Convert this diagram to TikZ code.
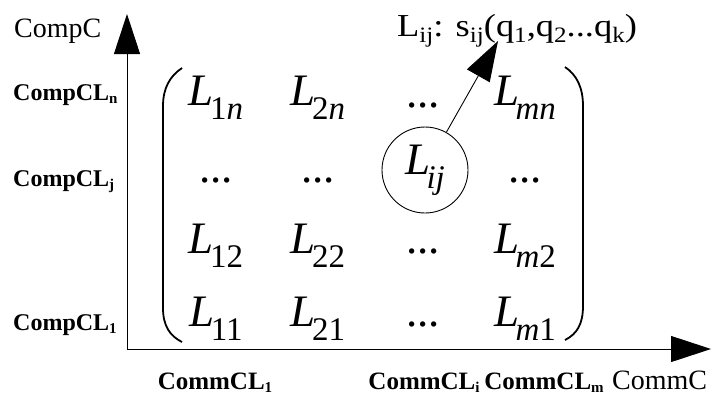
\documentclass[tikz,border=0pt]{standalone}
\usepackage{fontspec}
\setmainfont{Liberation Serif}
\usetikzlibrary{arrows.meta}
\newcommand\Lent[1]{\fontsize{45}{45}\selectfont\textit{L}\kern-0.08em\raisebox{-14pt}{\fontsize{33}{33}\selectfont #1}}
\newcommand\ddd{\fontsize{45}{45}\selectfont ...}
\newcommand\tsub[1]{\raisebox{-6pt}{\fontsize{22}{22}\selectfont #1}}
\newcommand\bsub[1]{\raisebox{-3pt}{\fontsize{15}{15}\selectfont\bfseries #1}}
\tikzset{
  axis/.style={line width=1pt,-{Triangle[length=40pt,width=26pt]}},
  callout/.style={line width=0.9pt,-{Triangle[length=40pt,width=26pt]}},
  paren/.style={line width=1.8pt},
  ent/.style={anchor=base,inner sep=0pt},
  blab/.style={anchor=base west,inner sep=0pt,font=\fontsize{24}{24}\selectfont\bfseries},
  bblab/.style={anchor=base,inner sep=0pt,font=\fontsize{25}{25}\selectfont\bfseries},
  nlab/.style={anchor=base west,inner sep=0pt,font=\fontsize{28}{28}\selectfont},
}
\begin{document}
\begin{tikzpicture}[x=1pt,y=-1pt]
\useasboundingbox (0,0) rectangle (712,394);
% axes
\coordinate (O) at (127,349);
\coordinate (ytip) at (127,14);
\coordinate (xtip) at (711,349);
\draw[axis] (O) -- (ytip);
\draw[axis] (O) -- (xtip);
% axis labels
\node[nlab] (compc) at (14,37) {CompC};
\node[nlab] (commc) at (612,389) {CommC};
\node[blab] (cln) at (13,100) {CompCL\bsub{n}};
\node[blab] (clj) at (13,186) {CompCL\bsub{j}};
\node[blab] (cl1) at (13,330) {CompCL\bsub{1}};
\node[bblab] (ml1) at (215,389) {CommCL\bsub{1}};
\node[bblab] (mli) at (424,389) {CommCL\bsub{i}};
\node[bblab] (mlm) at (544,389) {CommCL\bsub{m}};
% parentheses
\draw[paren] (182,68) .. controls (170,76) and (163,88) .. (163,106) -- (163,308) .. controls (163,326) and (170,336) .. (182,342);
\draw[paren] (565,67) .. controls (577,75) and (583,88) .. (583,106) -- (583,306) .. controls (583,324) and (577,334) .. (565,340);
% entries
\node[ent] (l1n) at (216,105) {\Lent{1\textit{n}}};
\node[ent] (l2n) at (318,105) {\Lent{2\textit{n}}};
\node[ent] (d3n) at (423,107) {\ddd};
\node[ent] (lmn) at (525,105) {\Lent{\textit{mn}}};
\node[ent] (d1j) at (216,182) {\ddd};
\node[ent] (d2j) at (318,182) {\ddd};
\node[ent] (d4j) at (525,182) {\ddd};
\node[ent] (l12) at (216,253) {\Lent{12}};
\node[ent] (l22) at (318,253) {\Lent{22}};
\node[ent] (d32) at (423,253) {\ddd};
\node[ent] (lm2) at (525,253) {\Lent{\textit{m}2}};
\node[ent] (l11) at (216,326) {\Lent{11}};
\node[ent] (l21) at (318,326) {\Lent{21}};
\node[ent] (d31) at (423,326) {\ddd};
\node[ent] (lm1) at (525,326) {\Lent{\textit{m}1}};
% circled entry and callout
\node[draw,circle,line width=0.9pt,minimum size=86pt,inner sep=0pt] (lij) at (425,170) {\Lent{\textit{ij}}};
\coordinate (ctip) at (498,41);
\draw[callout] (lij) -- (ctip);
\node[nlab] (formula) at (397,36) {\fontsize{32}{32}\selectfont\scalebox{1.14}[1]{L\tsub{ij}: s\tsub{ij}(q\tsub{1},q\tsub{2}...q\tsub{k})}};
\end{tikzpicture}
\end{document}
